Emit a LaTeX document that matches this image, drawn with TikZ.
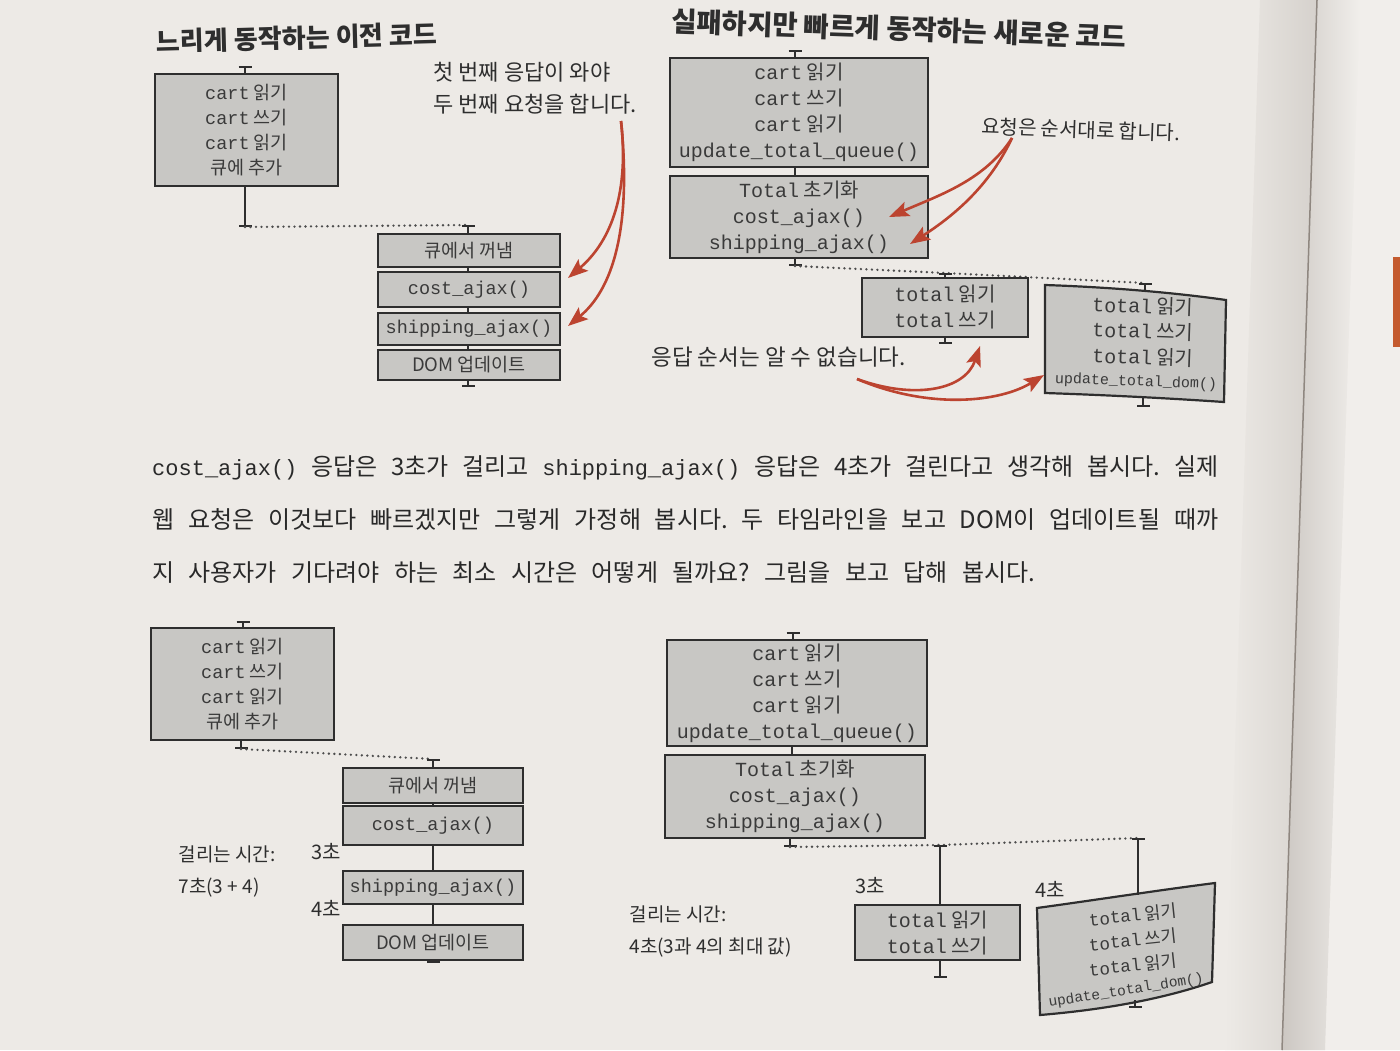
\documentclass[tikz,border=0pt]{standalone}
\usepackage{fontspec}
\usepackage{tikz}
\usetikzlibrary{arrows.meta}
\setmainfont{Noto Sans CJK KR}
\newfontfamily\codefont{Liberation Mono}
\newcommand\cd[1]{{\codefont #1}}
\newcommand\pcd[1]{{\codefont\fontsize{22}{28}\selectfont #1}}
\definecolor{paper}{HTML}{EDEAE6}
\definecolor{boxgrey}{HTML}{C8C7C4}
\definecolor{inkline}{HTML}{2E2E2E}
\definecolor{inktext}{HTML}{3A3A3A}
\definecolor{arrred}{HTML}{BC4430}
\definecolor{gutter}{HTML}{8F8780}
\definecolor{tabred}{HTML}{C45A2E}
\frenchspacing

\begin{document}
\begin{tikzpicture}[
   x=1pt, y=-1pt,
   codebox/.style={draw=inkline, fill=boxgrey, line width=2.2pt, inner sep=0pt, align=center, text=inktext},
   boxtxt/.style={font=\fontsize{18.5}{24.8}\selectfont},
   bigtxt/.style={font=\fontsize{20}{26}\selectfont},
   wtxt/.style={text=inktext, inner sep=0pt},
   tline/.style={draw=inkline, line width=2pt},
   topcap/.style={{Bar[width=13pt]}-},
   endcap/.style={-{Bar[width=13pt]}},
   dotline/.style={draw=inkline!85, line width=2.6pt, line cap=round, dash pattern=on 0pt off 5.5pt},
   redarr/.style={draw=arrred, line width=2.6pt, -{Stealth[length=20pt,width=15pt,inset=4pt]}},
   note/.style={font=\fontsize{22}{32}\selectfont, text=inkline, align=left},
   title/.style={font=\bfseries\fontsize{26}{30}\selectfont, text=inkline},
   para/.style={font=\fontsize{24}{28}\selectfont, text=inkline!90!black, anchor=west, inner sep=0pt},
   hand/.style={font=\fontsize{19}{32}\selectfont, text=inkline, align=left}
]
\useasboundingbox (0,0) rectangle (1400,1050);

% page
\fill[paper] (0,0) rectangle (1400,1050);
\shade[left color=paper, right color=gutter!25!paper] (1260,0) -- (1317,0) -- (1282,1050) -- (1225,1050) -- cycle;
\fill[paper!80!white] (1317,0) -- (1400,0) -- (1400,1050) -- (1282,1050) -- cycle;
\shade[left color=gutter!35!paper, right color=paper!80!white] (1317,0) -- (1360,0) -- (1325,1050) -- (1282,1050) -- cycle;
\draw[gutter, line width=1.5pt] (1317,0) -- (1282,1050);
\fill[tabred] (1393,257) rectangle (1400,347);

% slow old code
\node[title, anchor=west, rotate=1.6] (t1) at (153,42) {느리게 동작하는 이전 코드};
\coordinate (a0) at (245,66);
\node[codebox, boxtxt, minimum width=183pt, minimum height=112pt] (a1) at (246.5,130)
  {\cd{cart} 읽기\\\cd{cart} 쓰기\\\cd{cart} 읽기\\큐에 추가};
\coordinate (a9) at (245,227);
\draw[tline, topcap] (a0) -- (a0 |- a1.north);
\draw[tline, endcap] (a0 |- a1.south) -- (a9);

\coordinate (b0) at (468,225);
\draw[dotline] (a9) -- (b0);
\node[codebox, boxtxt, minimum width=182pt, minimum height=33pt] (b1) at (469,250.5) {큐에서 꺼냄};
\node[codebox, boxtxt, minimum width=182pt, minimum height=35pt] (b2) at (469,289.5) {\cd{cost\_ajax()}};
\node[codebox, boxtxt, minimum width=182pt, minimum height=32pt] (b3) at (469,329) {\cd{shipping\_ajax()}};
\node[codebox, boxtxt, minimum width=182pt, minimum height=30pt] (b4) at (469,365) {DOM 업데이트};
\coordinate (b9) at (468,387);
\draw[tline, topcap] (b0) -- (b0 |- b1.north);
\draw[tline] (b0 |- b1.south) -- (b0 |- b2.north) (b0 |- b2.south) -- (b0 |- b3.north)
  (b0 |- b3.south) -- (b0 |- b4.north);
\draw[tline, endcap] (b0 |- b4.south) -- (b9);

\node[note, anchor=west] (n1) at (430,88) {첫 번째 응답이 와야\\두 번째 요청을 합니다.};
\coordinate (r1) at (621,121);
\coordinate (b2in) at (568,278);
\coordinate (b3in) at (568,326);
\draw[redarr] (r1) .. controls (630,200) and (607,245) .. (b2in);
\draw[redarr] (r1) .. controls (632,230) and (612,290) .. (b3in);

% fast new code
\node[title, font=\bfseries\fontsize{27.5}{31}\selectfont, anchor=west, rotate=-2] (t2) at (668,21) {실패하지만 빠르게 동작하는 새로운 코드};
\coordinate (c0) at (795,50);
\node[codebox, bigtxt, minimum width=258pt, minimum height=109pt] (c1) at (799,112.5)
  {\cd{cart} 읽기\\\cd{cart} 쓰기\\\cd{cart} 읽기\\\cd{update\_total\_queue()}};
\node[codebox, bigtxt, minimum width=258pt, minimum height=82pt] (c2) at (799,217)
  {\cd{Total} 초기화\\\cd{cost\_ajax()}\\\cd{shipping\_ajax()}};
\coordinate (c9) at (795,266);
\draw[tline, topcap] (c0) -- (c0 |- c1.north);
\draw[tline] (c0 |- c1.south) -- (c0 |- c2.north);
\draw[tline, endcap] (c0 |- c2.south) -- (c9);

\coordinate (d0) at (945,273);
\coordinate (e0) at (1145,283);
\draw[dotline] (c9) -- (d0) -- (e0);
\node[codebox, bigtxt, minimum width=166pt, minimum height=59pt] (d1) at (945,307.5)
  {\cd{total} 읽기\\\cd{total} 쓰기};
\coordinate (d9) at (945,344);
\draw[tline, topcap] (d0) -- (d0 |- d1.north);
\draw[tline, endcap] (d0 |- d1.south) -- (d9);

\path[codebox] (1045,285) .. controls (1105,287) and (1170,292) .. (1226,300) -- (1224,402)
  .. controls (1165,398) and (1105,395) .. (1045,393) -- cycle;
\coordinate (etop) at (1145,292);
\coordinate (ebot) at (1143,397);
\coordinate (e9) at (1143,407);
\draw[tline, topcap] (e0) -- (etop);
\draw[tline, endcap] (ebot) -- (e9);
\node[wtxt, bigtxt, rotate=-2] (e1) at (1143,306) {\cd{total} 읽기};
\node[wtxt, bigtxt, rotate=-2] (e2) at (1143,331) {\cd{total} 쓰기};
\node[wtxt, bigtxt, rotate=-2] (e3) at (1143,357) {\cd{total} 읽기};
\node[wtxt, font=\fontsize{15}{18}\selectfont, rotate=-2] (e4) at (1136,382) {\cd{update\_total\_dom()}};

\node[note, font=\fontsize{20}{26}\selectfont, anchor=west, rotate=-2] (n2) at (978,126) {요청은 순서대로 합니다.};
\coordinate (r2) at (1012,138);
\coordinate (c2cost) at (889,217);
\coordinate (c2ship) at (910,244);
\draw[redarr] (r2) .. controls (985,180) and (940,195) .. (c2cost);
\draw[redarr] (r2) .. controls (990,185) and (955,215) .. (c2ship);

\node[note, font=\fontsize{22.5}{26}\selectfont, anchor=west] (n3) at (648,357) {응답 순서는 알 수 없습니다.};
\coordinate (r3) at (857,379);
\coordinate (d1in) at (980,346);
\coordinate (eleft) at (1044,375);
\draw[redarr] (r3) .. controls (915,400) and (965,390) .. (d1in);
\draw[redarr] (r3) .. controls (930,410) and (1000,402) .. (eleft);

% text
\node[para] (p1) at (152,468) {\makebox[1066pt][s]{\pcd{cost\_ajax()} 응답은 3초가 걸리고 \pcd{shipping\_ajax()} 응답은 4초가 걸린다고 생각해 봅시다. 실제}};
\node[para] (p2) at (152,520) {\makebox[1066pt][s]{웹 요청은 이것보다 빠르겠지만 그렇게 가정해 봅시다. 두 타임라인을 보고 DOM이 업데이트될 때까}};
\node[para] (p3) at (152,573) {\makebox[883pt][s]{지 사용자가 기다려야 하는 최소 시간은 어떻게 될까요? 그림을 보고 답해 봅시다.}};

% slow old code, timed
\coordinate (f0) at (243,621);
\node[codebox, boxtxt, minimum width=183pt, minimum height=112pt] (f1) at (242.5,684)
  {\cd{cart} 읽기\\\cd{cart} 쓰기\\\cd{cart} 읽기\\큐에 추가};
\coordinate (f9) at (241,749);
\draw[tline, topcap] (f0) -- (f0 |- f1.north);
\draw[tline, endcap] (f9 |- f1.south) -- (f9);

\coordinate (g0) at (433,759);
\draw[dotline] (f9) -- (g0);
\node[codebox, boxtxt, minimum width=180pt, minimum height=35pt] (g1) at (433,785.5) {큐에서 꺼냄};
\node[codebox, boxtxt, minimum width=180pt, minimum height=39pt] (g2) at (433,825.5) {\cd{cost\_ajax()}};
\node[codebox, boxtxt, minimum width=180pt, minimum height=33pt] (g3) at (433,887.5) {\cd{shipping\_ajax()}};
\node[codebox, boxtxt, minimum width=180pt, minimum height=35pt] (g4) at (433,942.5) {DOM 업데이트};
\coordinate (g9) at (433,963);
\draw[tline, topcap] (g0) -- (g0 |- g1.north);
\draw[tline] (g0 |- g1.south) -- (g0 |- g2.north) (g0 |- g2.south) -- (g0 |- g3.north)
  (g0 |- g3.south) -- (g0 |- g4.north);
\draw[tline, endcap] (g0 |- g4.south) -- (g9);
\node[hand, font=\fontsize{20}{24}\selectfont] (s3) at (326,852) {3초};
\node[hand, font=\fontsize{20}{24}\selectfont] (s4) at (326,908) {4초};
\node[hand, anchor=west] (w1) at (175,871) {걸리는 시간:\\7초(3 + 4)};

% fast new code, timed
\coordinate (h0) at (793,632);
\node[codebox, bigtxt, minimum width=260pt, minimum height=106pt] (h1) at (797,693)
  {\cd{cart} 읽기\\\cd{cart} 쓰기\\\cd{cart} 읽기\\\cd{update\_total\_queue()}};
\node[codebox, bigtxt, minimum width=260pt, minimum height=83pt] (h2) at (795,796.5)
  {\cd{Total} 초기화\\\cd{cost\_ajax()}\\\cd{shipping\_ajax()}};
\coordinate (h9) at (790,847);
\draw[tline, topcap] (h0) -- (h0 |- h1.north);
\draw[tline] (h1.south) ++(-5,0) -- ++(0,9);
\draw[tline, endcap] (h9 |- h2.south) -- (h9);

\coordinate (i0) at (940,845);
\coordinate (j0) at (1138,838);
\draw[dotline] (h9) -- (i0) -- (j0);
\node[codebox, bigtxt, minimum width=165pt, minimum height=55pt] (i1) at (937.5,932.5)
  {\cd{total} 읽기\\\cd{total} 쓰기};
\coordinate (i9) at (940,978);
\draw[tline, topcap] (i0) -- (i0 |- i1.north);
\draw[tline, endcap] (i0 |- i1.south) -- (i9);

\path[codebox] (1037,908) .. controls (1095,900) and (1160,890) .. (1215,883) -- (1212,982)
  .. controls (1160,1000) and (1100,1010) .. (1040,1015) -- cycle;
\coordinate (jtop) at (1138,895);
\coordinate (jbot) at (1135,1000);
\coordinate (j9) at (1135,1008);
\draw[tline, topcap] (j0) -- (jtop);
\draw[tline, endcap] (jbot) -- (j9);
\node[wtxt, font=\fontsize{17.5}{22}\selectfont, rotate=6] (j1) at (1133,915) {\cd{total} 읽기};
\node[wtxt, font=\fontsize{17.5}{22}\selectfont, rotate=6] (j2) at (1133,940) {\cd{total} 쓰기};
\node[wtxt, font=\fontsize{17.5}{22}\selectfont, rotate=6] (j3) at (1133,965) {\cd{total} 읽기};
\node[wtxt, font=\fontsize{14.5}{18}\selectfont, rotate=9] (j4) at (1126,991) {\cd{update\_total\_dom()}};

\node[hand, font=\fontsize{20}{24}\selectfont] (s5) at (870,886) {3초};
\node[hand, font=\fontsize{20}{24}\selectfont] (s6) at (1050,889) {4초};
\node[hand, anchor=west] (w2) at (626,931) {걸리는 시간:\\4초(3과 4의 최대 값)};
\end{tikzpicture}
\end{document}
